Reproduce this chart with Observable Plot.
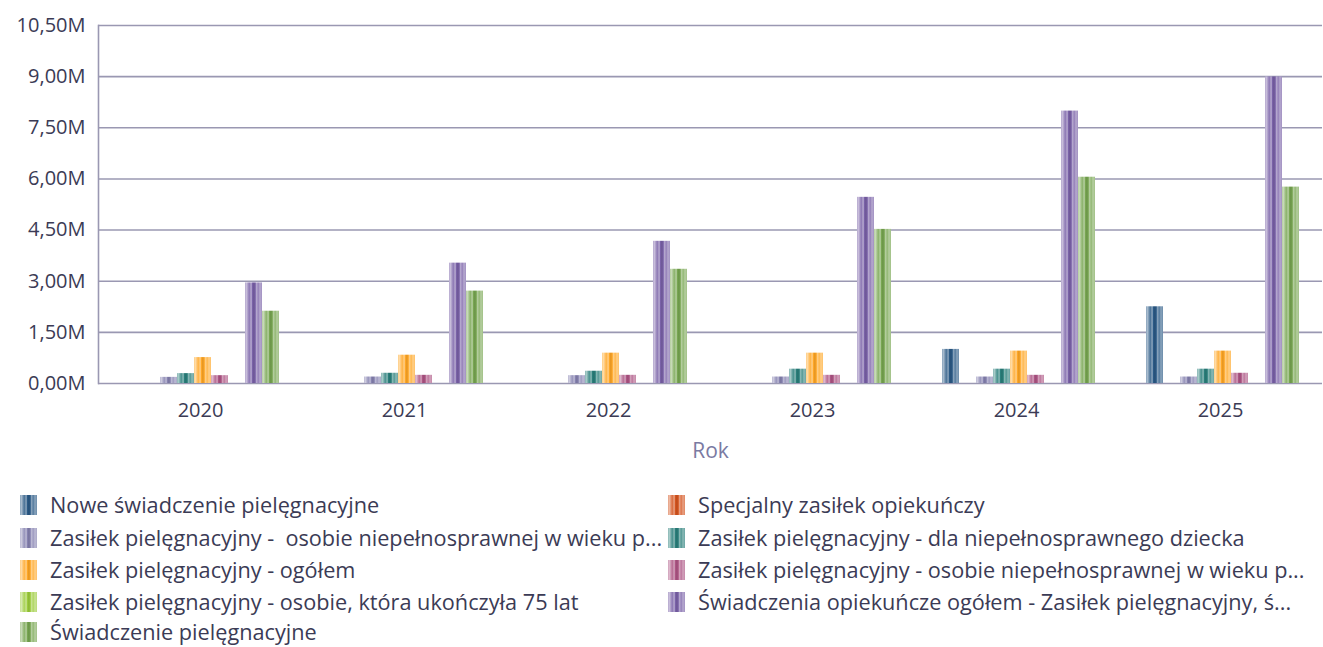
<!DOCTYPE html>
<html>
<head>
<meta charset="utf-8">
<script src="https://cdn.jsdelivr.net/npm/d3@7"></script>
<script src="https://cdn.jsdelivr.net/npm/@observablehq/plot@0.6"></script>
<style>
  html, body { margin: 0; padding: 0; background: #fff; }
  body { width: 1323px; height: 647px; overflow: hidden; font-family: "Open Sans", sans-serif; }
  #chart svg { display: block; }
  #legend {
    position: relative;
    height: 172px;
    color: #3b3b55;
    font-size: 21.7px;
  }
  .item { position: absolute; display: flex; align-items: center; white-space: pre; line-height: 26px; }
  .sw { width: 17px; height: 20px; margin-right: 13px; flex: none; }
</style>
</head>
<body>
<div id="chart"></div>
<div id="legend"></div>
<script>
// Years on the facet axis
const years = ["2020", "2021", "2022", "2023", "2024", "2025"];

// Series names, in bar order within each year
const seriesNames = [
  "Nowe świadczenie pielęgnacyjne",
  "Specjalny zasiłek opiekuńczy",
  "Zasiłek pielęgnacyjny -  osobie niepełnosprawnej w wieku p...",
  "Zasiłek pielęgnacyjny - dla niepełnosprawnego dziecka",
  "Zasiłek pielęgnacyjny - ogółem",
  "Zasiłek pielęgnacyjny - osobie niepełnosprawnej w wieku p...",
  "Zasiłek pielęgnacyjny - osobie, która ukończyła 75 lat",
  "Świadczenia opiekuńcze ogółem - Zasiłek pielęgnacyjny, ś...",
  "Świadczenie pielęgnacyjne"
];

const seriesColors = [
  "#2b5a86", "#d4541f", "#8682b0", "#2a7f7b", "#ffa726",
  "#ad5584", "#9ccc3c", "#7a62a8", "#78a652"
];

// Values in millions, one per year
const noweSwiadczenie   = [0, 0, 0, 0, 1.00, 2.25];
const specjalnyZasilek  = [0, 0, 0, 0, 0, 0];
const zasilekWiekuA     = [0.18, 0.19, 0.23, 0.19, 0.19, 0.19];
const zasilekDziecka    = [0.29, 0.30, 0.36, 0.42, 0.42, 0.42];
const zasilekOgolem     = [0.76, 0.83, 0.89, 0.89, 0.95, 0.95];
const zasilekWiekuB     = [0.23, 0.24, 0.24, 0.24, 0.24, 0.30];
const zasilek75         = [0, 0, 0, 0, 0, 0];
const swiadczeniaOgolem = [2.95, 3.53, 4.17, 5.46, 7.99, 8.99];
const swiadczeniePiel   = [2.12, 2.71, 3.35, 4.52, 6.05, 5.76];

const seriesValues = [
  noweSwiadczenie, specjalnyZasilek, zasilekWiekuA, zasilekDziecka, zasilekOgolem,
  zasilekWiekuB, zasilek75, swiadczeniaOgolem, swiadczeniePiel
];

const yTicks = [0, 1.5, 3, 4.5, 6, 7.5, 9, 10.5];

const rows = [];
seriesNames.forEach((s, i) => {
  years.forEach((y, j) => rows.push({year: y, series: s, idx: i, value: seriesValues[i][j]}));
});

// Striped shading used for each series (bars and legend swatches)
function stripeStops(base) {
  const light = t => d3.interpolateRgb(base, "#ffffff")(t);
  const dark = d3.color(base).darker(0.35).formatHex();
  return [
    [0, light(0.45)], [0.1, light(0.6)], [0.18, light(0.3)], [0.28, light(0.15)],
    [0.36, light(0.5)], [0.44, base], [0.52, dark], [0.6, base],
    [0.68, light(0.45)], [0.78, light(0.2)], [0.88, light(0.45)], [1, light(0.3)]
  ];
}

const fmt = d => d.toFixed(2).replace(".", ",") + "M";

const barMarks = seriesNames.map((s, i) =>
  Plot.barY(rows.filter(r => r.idx === i), {
    fx: "year", x: "series", y: "value", fill: `url(#stripe${i})`, insetLeft: 0, insetRight: 0
  })
);

const chart = Plot.plot({
  width: 1323,
  height: 475,
  marginLeft: 97,
  marginRight: 0,
  marginTop: 25,
  marginBottom: 92,
  style: {fontFamily: "Open Sans, sans-serif", fontSize: "20px", color: "#3b3b55", background: "#fff"},
  fx: {domain: years, padding: 0, label: null},
  x: {domain: seriesNames, axis: null, paddingInner: 0, paddingOuter: 1.45, align: 0.55},
  y: {domain: [0, 10.5], axis: null},
  marks: [
    Plot.gridY(yTicks, {stroke: "#9a98b2", strokeOpacity: 1, strokeWidth: 1.6}),
    Plot.frame({anchor: "left", facet: "super", stroke: "#9a98b2", strokeWidth: 1.6}),
    Plot.axisY(yTicks, {tickSize: 0, tickPadding: 13, tickFormat: fmt, fill: "#3b3b55", fontSize: 20, letterSpacing: 0.6, label: null}),
    ...barMarks,
    Plot.axisFx({anchor: "bottom", tickSize: 0, tickPadding: 19, fill: "#3b3b55", fontSize: 20, label: null}),
    Plot.text(["Rok"], {frameAnchor: "bottom", facet: "super", dy: 74, fill: "#7a7aa2", fontSize: 21})
  ]
});

// Gradient definitions referenced by the bar fills
const ns = "http://www.w3.org/2000/svg";
const defs = document.createElementNS(ns, "defs");
seriesColors.forEach((c, i) => {
  const g = document.createElementNS(ns, "linearGradient");
  g.setAttribute("id", `stripe${i}`);
  g.setAttribute("x1", "0"); g.setAttribute("x2", "1");
  g.setAttribute("y1", "0"); g.setAttribute("y2", "0");
  for (const [o, col] of stripeStops(c)) {
    const st = document.createElementNS(ns, "stop");
    st.setAttribute("offset", o);
    st.setAttribute("stop-color", col);
    g.appendChild(st);
  }
  defs.appendChild(g);
});
chart.insertBefore(defs, chart.firstChild);
document.getElementById("chart").appendChild(chart);

// Legend: two columns, filled row by row
const legend = document.getElementById("legend");
const colX = [20, 668];
const rowY = [30, 63, 95, 127, 157];
seriesNames.forEach((s, i) => {
  const el = document.createElement("div");
  el.className = "item";
  el.style.left = colX[i % 2] + "px";
  el.style.top = (rowY[Math.floor(i / 2)] - 13) + "px";
  const sw = document.createElement("span");
  sw.className = "sw";
  sw.style.background = "linear-gradient(to right, " +
    stripeStops(seriesColors[i]).map(([o, c]) => `${c} ${o * 100}%`).join(", ") + ")";
  const tx = document.createElement("span");
  tx.textContent = s;
  el.appendChild(sw);
  el.appendChild(tx);
  legend.appendChild(el);
});
</script>
</body>
</html>
